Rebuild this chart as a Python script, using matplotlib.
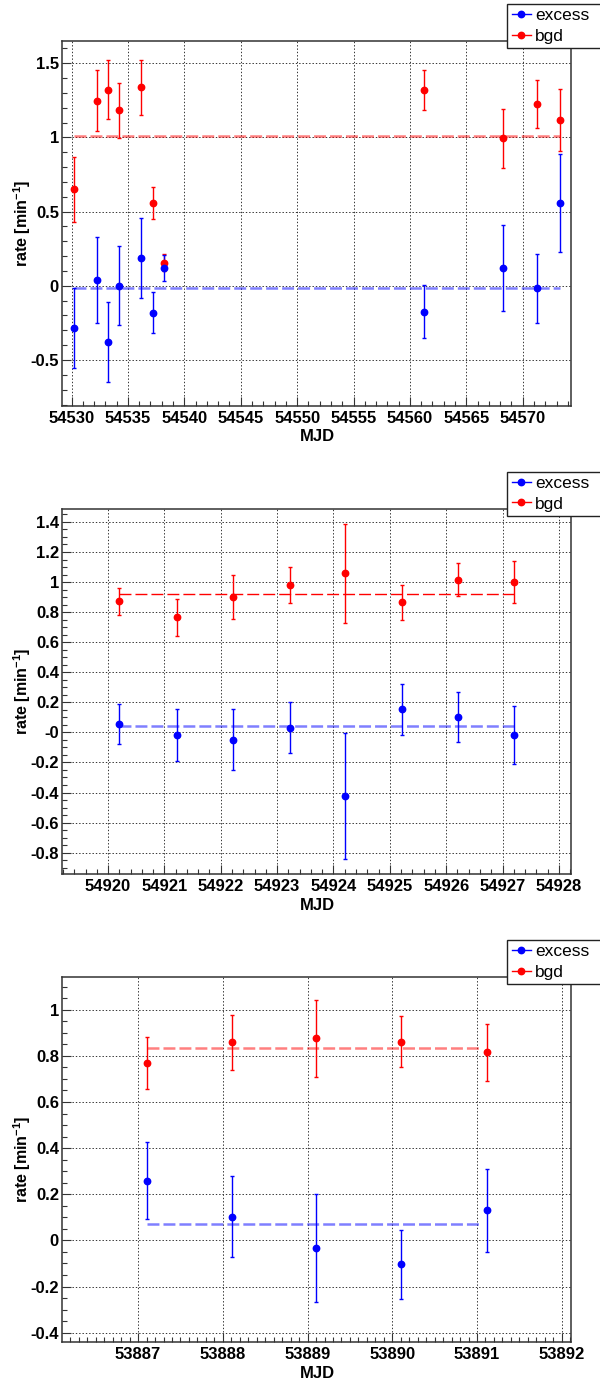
import matplotlib
matplotlib.use("Agg")
import matplotlib.pyplot as plt
from matplotlib.lines import Line2D
from matplotlib.ticker import MultipleLocator, FuncFormatter

plt.rcParams["font.family"] = ["Liberation Sans", "DejaVu Sans"]
plt.rcParams["axes.unicode_minus"] = False
plt.rcParams["lines.scale_dashes"] = False
plt.rcParams["mathtext.fontset"] = "custom"
plt.rcParams["mathtext.rm"] = "Liberation Sans"
plt.rcParams["mathtext.bf"] = "Liberation Sans:bold"

# ---- Period 1 (MJD 54530 - 54574) ----
p1_mjd = [54530.2, 54532.24, 54533.22, 54534.2, 54536.17, 54537.19, 54538.18,
          54561.25, 54568.27, 54571.26, 54573.32]
p1_excess = [-0.283, 0.040, -0.380, 0.002, 0.187, -0.180, 0.121,
             -0.175, 0.121, -0.018, 0.558]
p1_excess_err = [0.27, 0.29, 0.27, 0.263, 0.272, 0.14, 0.088,
                 0.18, 0.29, 0.23, 0.33]
p1_bgd = [0.650, 1.248, 1.322, 1.183, 1.338, 0.558, 0.157,
          1.318, 0.994, 1.226, 1.118]
p1_bgd_err = [0.22, 0.205, 0.2, 0.185, 0.187, 0.107, 0.06,
              0.135, 0.197, 0.16, 0.21]
p1_excess_mean = -0.012
p1_bgd_mean = 1.010
p1_fit_range = [54530.2, 54573.32]

# ---- Period 2 (MJD 54920 - 54927) ----
p2_mjd = [54920.197, 54921.216, 54922.22, 54923.22, 54924.21, 54925.22,
          54926.21, 54927.21]
p2_excess = [0.058, -0.017, -0.048, 0.032, -0.421, 0.154, 0.100, -0.017]
p2_excess_err = [0.133, 0.17, 0.205, 0.17, 0.42, 0.17, 0.166, 0.195]
p2_bgd = [0.872, 0.766, 0.899, 0.979, 1.058, 0.865, 1.014, 0.998]
p2_bgd_err = [0.091, 0.122, 0.147, 0.118, 0.33, 0.118, 0.11, 0.14]
p2_excess_mean = 0.041
p2_bgd_mean = 0.919
p2_fit_range = [54920.197, 54927.21]

# ---- Period 3 (MJD 53887 - 53891) ----
p3_mjd = [53887.104, 53888.11, 53889.096, 53890.1, 53891.115]
p3_excess = [0.259, 0.103, -0.032, -0.104, 0.131]
p3_excess_err = [0.167, 0.177, 0.235, 0.148, 0.18]
p3_bgd = [0.769, 0.858, 0.876, 0.861, 0.816]
p3_bgd_err = [0.112, 0.12, 0.168, 0.11, 0.123]
p3_excess_mean = 0.072
p3_bgd_mean = 0.834
p3_fit_range = [53887.104, 53891.06]

series_labels = ["excess", "bgd"]

W, H = 600, 1387
fig = plt.figure(figsize=(W / 100, H / 100), dpi=100)

RED = "#ff0000"
BLUE = "#0000ff"
FAINT = dict(alpha=0.5, lw=1.8)
SHARP = dict(alpha=1.0, lw=1.0)


def px_box(left, top, right, bottom):
    return [left / W, 1 - bottom / H, (right - left) / W, (bottom - top) / H]


panels = [
    dict(box=px_box(62.4, 40.7, 571.3, 406.0), xlim=(54529.19, 54574.31),
         ylim=(-0.81, 1.652), xmaj=5, xmin=1, ymaj=0.5, ymin=0.1,
         mjd=p1_mjd, exc=p1_excess, exc_err=p1_excess_err,
         bgd=p1_bgd, bgd_err=p1_bgd_err,
         exc_mean=p1_excess_mean, bgd_mean=p1_bgd_mean, rng=p1_fit_range,
         bgd_style=FAINT, exc_style=FAINT,
         neg_zero=False, leg_top=4.0, xlabel_y=437, ylabel_y=223),
    dict(box=px_box(62.4, 509.3, 571.3, 874.0), xlim=(54919.19, 54928.22),
         ylim=(-0.942, 1.484), xmaj=1, xmin=0.2, ymaj=0.2, ymin=0.05,
         mjd=p2_mjd, exc=p2_excess, exc_err=p2_excess_err,
         bgd=p2_bgd, bgd_err=p2_bgd_err,
         exc_mean=p2_excess_mean, bgd_mean=p2_bgd_mean, rng=p2_fit_range,
         bgd_style=SHARP, exc_style=FAINT,
         neg_zero=True, leg_top=471.7, xlabel_y=905, ylabel_y=691),
    dict(box=px_box(62.4, 976.7, 571.3, 1342.0), xlim=(53886.106, 53892.113),
         ylim=(-0.4405, 1.143), xmaj=1, xmin=0.1, ymaj=0.2, ymin=0.05,
         mjd=p3_mjd, exc=p3_excess, exc_err=p3_excess_err,
         bgd=p3_bgd, bgd_err=p3_bgd_err,
         exc_mean=p3_excess_mean, bgd_mean=p3_bgd_mean, rng=p3_fit_range,
         bgd_style=FAINT, exc_style=FAINT,
         neg_zero=False, leg_top=940.0, xlabel_y=1373, ylabel_y=1159),
]


def fmt_factory(neg_zero):
    def f(v, pos):
        if abs(v) < 1e-9:
            return "-0" if neg_zero else "0"
        return "%g" % round(v, 3)
    return f


for p in panels:
    ax = fig.add_axes(p["box"])
    ax.set_xlim(*p["xlim"])
    ax.set_ylim(*p["ylim"])

    ax.xaxis.set_major_locator(MultipleLocator(p["xmaj"]))
    ax.xaxis.set_minor_locator(MultipleLocator(p["xmin"]))
    ax.yaxis.set_major_locator(MultipleLocator(p["ymaj"]))
    ax.yaxis.set_minor_locator(MultipleLocator(p["ymin"]))
    ax.xaxis.set_major_formatter(FuncFormatter(lambda v, pos: "%d" % round(v)))
    ax.yaxis.set_major_formatter(FuncFormatter(fmt_factory(p["neg_zero"])))

    ax.tick_params(which="both", direction="in", top=False, right=False,
                   color="#333333", width=0.8)
    ax.tick_params(which="major", length=6.8)
    ax.tick_params(which="minor", length=3.8)
    ax.tick_params(axis="x", pad=3.4)
    ax.tick_params(axis="y", pad=2.5)
    for lab in ax.get_xticklabels() + ax.get_yticklabels():
        lab.set_fontsize(12)
        lab.set_fontweight("bold")

    ax.grid(True, which="major", color="#333333", lw=0.7,
            dashes=(1.0, 1.4))
    ax.set_axisbelow(True)
    for s in ax.spines.values():
        s.set_color("#333333")
        s.set_linewidth(1.1)

    # bgd first, excess on top
    ax.errorbar(p["mjd"], p["bgd"], yerr=p["bgd_err"], fmt="o", color=RED,
                ms=4.6, elinewidth=1.0, capsize=1.5, capthick=1.0, zorder=3)
    ax.errorbar(p["mjd"], p["exc"], yerr=p["exc_err"], fmt="o", color=BLUE,
                ms=4.6, elinewidth=1.0, capsize=1.5, capthick=1.0, zorder=3)

    # constant-rate fits
    ax.plot(p["rng"], [p["bgd_mean"]] * 2, color=RED, dashes=(8.6, 2.9),
            zorder=2.8, **p["bgd_style"])
    ax.plot(p["rng"], [p["exc_mean"]] * 2, color=BLUE, dashes=(8.6, 2.9),
            zorder=2.8, **p["exc_style"])

    handles = [Line2D([0], [0], color=BLUE, marker="o", ms=4.6, lw=1.0),
               Line2D([0], [0], color=RED, marker="o", ms=4.6, lw=1.0)]
    leg = ax.legend(handles, series_labels, loc="upper left",
                    bbox_to_anchor=(507.4 / W, 1 - p["leg_top"] / H, 0.2, 0),
                    bbox_transform=fig.transFigure, mode="expand",
                    borderaxespad=0, fontsize=12.5, frameon=True,
                    fancybox=False, framealpha=1, edgecolor="#222222",
                    handlelength=1.1, handletextpad=0.25, labelspacing=0.3,
                    borderpad=0.25)
    leg.get_frame().set_linewidth(1.0)
    leg.set_zorder(10)

    fig.text(317 / W, 1 - p["xlabel_y"] / H, "MJD", ha="center", va="center",
             fontsize=12, fontweight="bold")
    fig.text(22 / W, 1 - p["ylabel_y"] / H, r"rate [min$^{\mathbf{-1}}$]",
             rotation=90, ha="center", va="center", fontsize=11.5,
             fontweight="bold")

fig.savefig("out.png", dpi=100)
